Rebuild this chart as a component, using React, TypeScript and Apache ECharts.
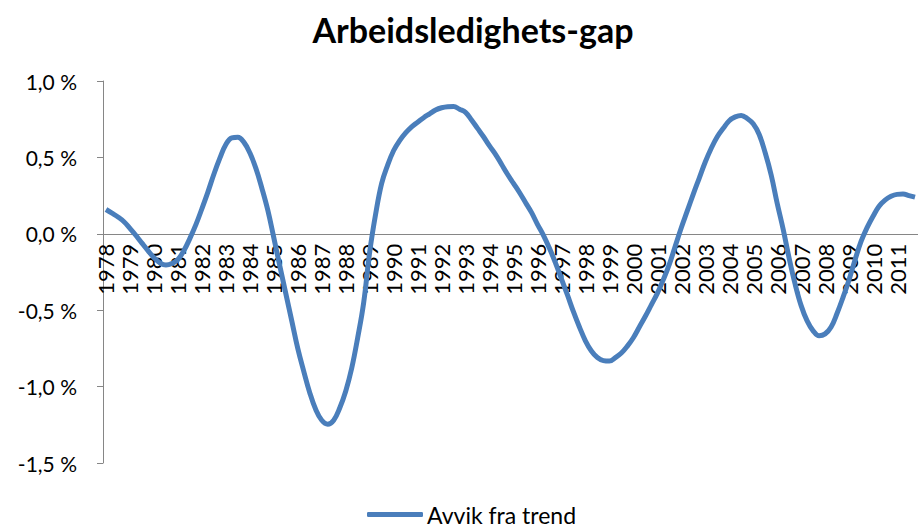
import React, { useEffect, useRef } from "react";
import * as echarts from "echarts";

const chartTitle = "Arbeidsledighets-gap";
const seriesName = "Avvik fra trend";

const years = [
  1978, 1979, 1980, 1981, 1982, 1983, 1984, 1985, 1986, 1987, 1988, 1989,
  1990, 1991, 1992, 1993, 1994, 1995, 1996, 1997, 1998, 1999, 2000, 2001,
  2002, 2003, 2004, 2005, 2006, 2007, 2008, 2009, 2010, 2011,
];
const quarters = ["K1", "K2", "K3", "K4"];

// Unemployment gap, deviation from trend (%), quarterly, one row per year
const gap = [
  0.159, 0.135, 0.11, 0.079, // 1978
  0.035, -0.011, -0.061, -0.11, // 1979
  -0.156, -0.19, -0.205, -0.195, // 1980
  -0.168, -0.11, -0.03, 0.06, // 1981
  0.164, 0.273, 0.39, 0.495, // 1982
  0.585, 0.628, 0.632, 0.6, // 1983
  0.53, 0.43, 0.3, 0.155, // 1984
  -0.025, -0.21, -0.39, -0.57, // 1985
  -0.75, -0.9, -1.04, -1.15, // 1986
  -1.22, -1.246, -1.22, -1.14, // 1987
  -1.03, -0.88, -0.68, -0.45, // 1988
  -0.12, 0.13, 0.33, 0.45, // 1989
  0.545, 0.61, 0.66, 0.7, // 1990
  0.73, 0.76, 0.785, 0.81, // 1991
  0.825, 0.832, 0.833, 0.815, // 1992
  0.795, 0.745, 0.69, 0.635, // 1993
  0.575, 0.52, 0.455, 0.39, // 1994
  0.33, 0.27, 0.205, 0.14, // 1995
  0.062, -0.01, -0.095, -0.19, // 1996
  -0.295, -0.4, -0.51, -0.61, // 1997
  -0.7, -0.767, -0.81, -0.83, // 1998
  -0.833, -0.81, -0.78, -0.735, // 1999
  -0.68, -0.61, -0.54, -0.465, // 2000
  -0.39, -0.3, -0.2, -0.08, // 2001
  0.04, 0.15, 0.26, 0.365, // 2002
  0.47, 0.56, 0.635, 0.69, // 2003
  0.74, 0.765, 0.775, 0.755, // 2004
  0.72, 0.65, 0.53, 0.385, // 2005
  0.2, 0.03, -0.16, -0.33, // 2006
  -0.47, -0.57, -0.635, -0.668, // 2007
  -0.655, -0.61, -0.52, -0.415, // 2008
  -0.3, -0.17, -0.05, 0.04, // 2009
  0.115, 0.18, 0.22, 0.245, // 2010
  0.258, 0.26, 0.25, 0.24, // 2011
];

const yMin = -1.5;
const yMax = 1.0;
const yStep = 0.5;

const FONT = 'Lato, "Open Sans", "Noto Sans", sans-serif';

const GRID_TOP = 81;
const GRID_HEIGHT = 382;

export default function App() {
  const ref = useRef<HTMLDivElement>(null);

  useEffect(() => {
    if (!ref.current) return;
    const chart = echarts.init(ref.current, undefined, { renderer: "svg" });
    const categories: string[] = [];
    years.forEach((y) => quarters.forEach((q) => categories.push(`${y}${q}`)));

    // distance from the grid bottom up to the zero line
    const zeroOffset = (GRID_HEIGHT * (0 - yMin)) / (yMax - yMin);

    chart.setOption({
      animation: false,
      backgroundColor: "#ffffff",
      graphic: [
        {
          type: "text",
          x: 473,
          y: 29,
          style: {
            text: chartTitle,
            fill: "#000000",
            fontSize: 34,
            fontWeight: "bold",
            fontFamily: FONT,
            align: "center",
            verticalAlign: "middle",
          },
        },
      ],
      grid: {
        left: 103,
        top: GRID_TOP,
        width: 822,
        height: GRID_HEIGHT,
        containLabel: false,
      },
      legend: {
        data: [seriesName],
        left: 367,
        top: 502,
        padding: 0,
        icon: "roundRect",
        itemWidth: 56,
        itemHeight: 5,
        itemGap: 10,
        textStyle: {
          fontSize: 23,
          lineHeight: 25,
          fontFamily: FONT,
          color: "#000000",
          padding: [0, 0, 0, -1],
        },
      },
      xAxis: {
        type: "category",
        data: categories,
        boundaryGap: true,
        offset: -zeroOffset,
        axisLine: { onZero: false, lineStyle: { color: "#868686", width: 1 } },
        axisTick: { interval: 3, length: 8, lineStyle: { color: "#868686" } },
        axisLabel: {
          interval: 3,
          rotate: 90,
          margin: 10,
          color: "#000000",
          fontSize: 22,
          fontFamily: FONT,
          formatter: (v: string) => v.slice(0, 4),
        },
        splitLine: { show: false },
      },
      yAxis: {
        type: "value",
        min: yMin,
        max: yMax,
        interval: yStep,
        axisLine: { show: true, lineStyle: { color: "#868686", width: 1 } },
        axisTick: { show: true, length: 6, lineStyle: { color: "#868686" } },
        splitLine: { show: false },
        axisLabel: {
          margin: 26,
          color: "#000000",
          fontSize: 21,
          fontFamily: FONT,
          formatter: (v: number) => v.toFixed(1).replace(".", ",") + " %",
        },
      },
      series: [
        {
          type: "line",
          name: seriesName,
          data: gap,
          smooth: 0.4,
          symbol: "none",
          lineStyle: { color: "#4a7ebb", width: 5 },
          itemStyle: { color: "#4a7ebb" },
        },
      ],
    });
    return () => chart.dispose();
  }, []);

  return (
    <div
      ref={ref}
      style={{ position: "fixed", left: 0, top: 0, width: 918, height: 530 }}
    />
  );
}
